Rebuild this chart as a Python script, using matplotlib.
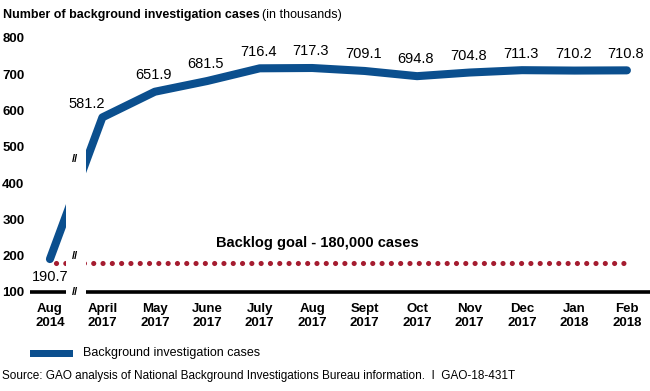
import matplotlib
matplotlib.use("Agg")
import matplotlib.pyplot as plt
from matplotlib.patches import Rectangle
import numpy as np

plt.rcParams['font.family'] = ['Liberation Sans', 'DejaVu Sans']

months = ["Aug\n2014", "April\n2017", "May\n2017", "June\n2017", "July\n2017", "Aug\n2017",
          "Sept\n2017", "Oct\n2017", "Nov\n2017", "Dec\n2017", "Jan\n2018", "Feb\n2018"]
cases = [190.7, 581.2, 651.9, 681.5, 716.4, 717.3, 709.1, 694.8, 704.8, 711.3, 710.2, 710.8]
goal = 180
yticks = [100, 200, 300, 400, 500, 600, 700, 800]

BLUE = "#0b4f8e"
RED = "#a51c30"

fig = plt.figure(figsize=(6.5, 3.91), dpi=100)
ax = fig.add_axes([30/650, 1-292/391, 620/650, 262/391])
x = np.arange(len(months))
ax.set_xlim(-0.38, 11.44)
ax.set_ylim(100, 822)
for s in ax.spines.values():
    s.set_visible(False)

ax.plot(x, cases, color=BLUE, lw=5.8, solid_capstyle='round', solid_joinstyle='round', zorder=3)
ax.plot([x[0] + 0.12, x[-1]], [goal, goal], color=RED, lw=3.7,
        linestyle=(0, (0.01, 1.8)), dash_capstyle='round', zorder=3)
# x axis line
ax.plot([-0.38, 11.44], [100, 100], color='black', lw=2.6, clip_on=False, zorder=3,
        solid_capstyle='butt')

# break gap
ax.add_patch(Rectangle((0.31, 90), 0.38, 420, facecolor='white', edgecolor='none',
                       zorder=4, clip_on=False))
for yb in (466, 200, 100):
    ax.text(0.48, yb, "//", ha='center', va='center', fontsize=8, fontweight='bold',
            zorder=5)

# data labels
for i, v in enumerate(cases):
    if i == 0:
        off = (0, -13)
    elif i == 1:
        off = (-11, 9.5)
    else:
        off = (-1, 12)
    ax.annotate(f"{v:.1f}", (x[i], v), xytext=off, textcoords='offset points',
                ha='center', va='center', fontsize=10.5, zorder=6)

ax.text(5.1, 235, "Backlog goal - 180,000 cases", ha='center', va='center',
        fontsize=10.5, fontweight='bold')

ax.set_xticks(x)
ax.set_xticklabels(months, fontsize=9.5, fontweight='bold', linespacing=1.2)
ax.tick_params(axis='x', length=0, pad=8)
ax.set_yticks(yticks)
ax.set_yticklabels([str(t) for t in yticks], fontsize=9.5, fontweight='bold')
ax.tick_params(axis='y', length=0, pad=4)

fig.text(3/650, 1-15/391, "Number of background investigation cases", fontsize=9,
         fontweight='bold', va='center', ha='left')
fig.text(262/650, 1-15/391, "(in thousands)", fontsize=9, va='center', ha='left')

# legend
fig.add_artist(Rectangle((30/650, 1-356.5/391), 43/650, 7/391, facecolor=BLUE,
                         edgecolor='none', transform=fig.transFigure))
fig.text(83/650, 1-353/391, "Background investigation cases", fontsize=9,
         va='center', ha='left')

fig.text(2/650, 1-376/391,
         "Source: GAO analysis of National Background Investigations Bureau information.  I  GAO-18-431T",
         fontsize=8.5, va='center', ha='left')

fig.savefig("out.png", dpi=100)
